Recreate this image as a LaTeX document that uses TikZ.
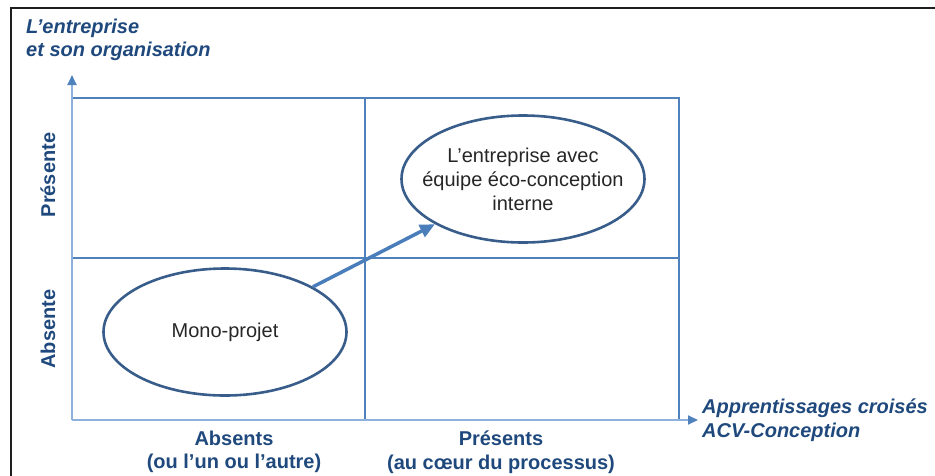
\documentclass[tikz,border=0pt]{standalone}
\usepackage{fontspec}
\setmainfont{Liberation Sans}
\usetikzlibrary{arrows.meta,shapes.geometric}
\definecolor{titleblue}{RGB}{31,73,125}
\definecolor{gridblue}{RGB}{79,129,189}
\definecolor{axisblue}{RGB}{141,176,220}
\definecolor{ellblue}{RGB}{56,93,138}
\definecolor{connblue}{RGB}{74,126,187}
\definecolor{txtgray}{RGB}{38,38,38}
\definecolor{frameblk}{RGB}{30,30,30}
\tikzset{
  gridline/.style={draw=gridblue, line width=1.8pt},
  axisline/.style={draw=axisblue, line width=1.8pt, -{Triangle[length=10pt,width=9pt,color=gridblue]}},
  ellnode/.style={ellipse, draw=ellblue, line width=2.6pt, minimum width=243pt, minimum height=127pt, inner sep=0pt},
  elltext/.style={text=txtgray, align=center, font=\fontsize{20}{24}\selectfont},
  axtitle/.style={text=titleblue, align=left, font=\fontsize{20}{23.5}\selectfont\bfseries\itshape, inner sep=0pt},
  collabel/.style={text=titleblue, align=center, font=\fontsize{20}{23.5}\selectfont\bfseries, inner sep=0pt},
  rowlabel/.style={text=titleblue, rotate=90, font=\fontsize{20}{24}\selectfont\bfseries, inner sep=0pt},
  conn/.style={draw=connblue, line width=3.5pt, -{Triangle[length=15pt,width=13pt]}}
}
\begin{document}
\begin{tikzpicture}[x=1pt,y=-1pt]
\useasboundingbox (0,0) rectangle (935,475);
% frame
\draw[frameblk, line width=2.4pt] (11,476) -- (11,8) -- (936,8);
% grid
\coordinate (o) at (72,420);
\coordinate (ytip) at (72,75);
\coordinate (xtip) at (698,420);
\coordinate (tl) at (72,98);
\coordinate (tr) at (679,98);
\coordinate (br) at (679,420);
\coordinate (tm) at (365,98);
\coordinate (bm) at (365,420);
\coordinate (ml) at (72,258);
\coordinate (mr) at (679,258);
\draw[gridline] (tl) -- (tr) -- (br);
\draw[gridline] (tm) -- (bm);
\draw[gridline] (ml) -- (mr);
\draw[axisline] (o) -- (ytip);
\draw[axisline] (o) -- (xtip);
% ellipses
\node[ellnode] (mono) at (225,332) {};
\node[elltext] (monotext) at (mono.center) {Mono-projet};
\node[ellnode] (top) at (523,179) {};
\node[elltext] (toptext) at (top.center) {L’entreprise avec\\équipe éco-conception\\interne};
\draw[conn] (mono) -- (top);
% labels
\node[axtitle, anchor=west] (ytitle) at (26,40) {L’entreprise\\et son organisation};
\node[axtitle, anchor=west] (xtitle) at (702,420) {Apprentissages croisés\\ACV-Conception};
\node[rowlabel] (pres) at (48,175) {Présente};
\node[rowlabel] (abs) at (48,329) {Absente};
\node[collabel] (colabs) at (234,452) {Absents\\(ou l’un ou l’autre)};
\node[collabel] (colpres) at (501,452) {Présents\\(au cœur du processus)};
\end{tikzpicture}
\end{document}
